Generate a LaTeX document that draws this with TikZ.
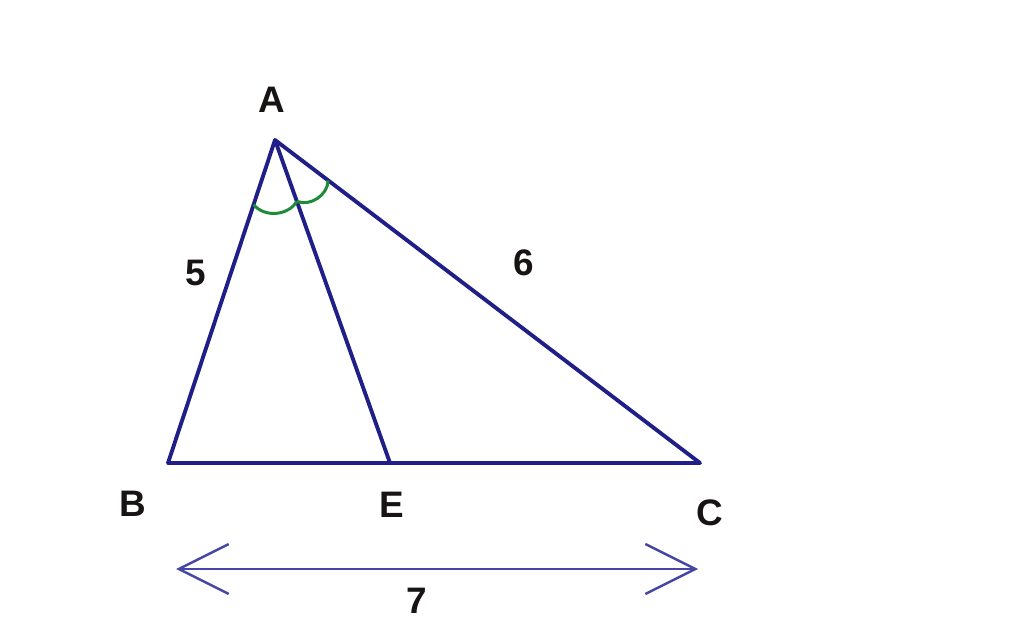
\documentclass[tikz,border=0pt]{standalone}
\usepackage{fontspec}
\setmainfont{Liberation Sans}
\usetikzlibrary{arrows.meta,calc}
\definecolor{trianglecolor}{RGB}{32,30,135}
\definecolor{dimcolor}{RGB}{70,70,165}
\definecolor{anglecolor}{RGB}{30,140,55}
\definecolor{labelcolor}{RGB}{25,20,20}
\tikzset{
    tri line/.style={trianglecolor,line width=2.2pt,line join=round},
    angle mark/.style={anglecolor,line width=1.7pt},
    dim arrow/.style={dimcolor,line width=1.4pt,{Straight Barb[length=1cm,width=1cm]}-{Straight Barb[length=1cm,width=1cm]}},
    vertex label/.style={labelcolor,font=\fontsize{21}{24}\selectfont\bfseries,inner sep=0pt},
}

\begin{document}
\begin{tikzpicture}[x=0.02cm,y=-0.02cm]
        \useasboundingbox (0,0) rectangle (1024,624);
        \coordinate (A) at (275,140);
        \coordinate (B) at (168,463);
        \coordinate (C) at (700,463);
        \coordinate (E) at (390,463);
        % triangle and bisector
        \draw[tri line] (A) -- (B) -- (C) -- cycle;
        \draw[tri line] (A) -- (E);
        % equal angles at A
        \coordinate (ab) at ($(A)!0.2!(B)$);
        \coordinate (ae) at ($(A)!0.19!(E)$);
        \coordinate (ac) at ($(A)!0.125!(C)$);
        \draw[angle mark] (ab) to[bend right=55] (ae);
        \draw[angle mark] (ae) to[bend right=55] (ac);
        % labels
        \node[vertex label] (lA) at (272,100) {A};
        \node[vertex label] (lB) at (133,504) {B};
        \node[vertex label] (lE) at (392,505) {E};
        \node[vertex label] (lC) at (710,513) {C};
        \node[vertex label] (l5) at (196,273) {5};
        \node[vertex label] (l6) at (524,263) {6};
        % length of BC
        \coordinate (dimL) at (176,569);
        \coordinate (dimR) at (698,569);
        \draw[dim arrow] (dimL) -- (dimR);
        \node[vertex label] (l7) at (417,601) {7};
    \end{tikzpicture}
\end{document}
